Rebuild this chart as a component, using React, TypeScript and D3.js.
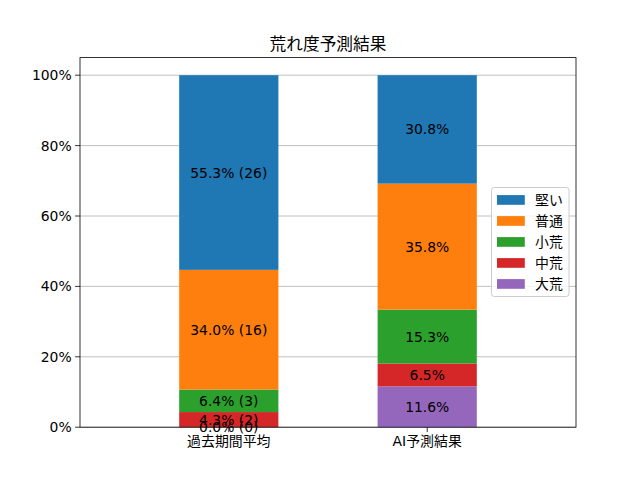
import React, { useRef, useEffect } from "react";
import * as d3 from "d3";

const categories = ["過去期間平均", "AI予測結果"];
// stacked bottom to top
const levels = ["大荒", "中荒", "小荒", "普通", "堅い"];
const colors = ["#9467bd", "#d62728", "#2ca02c", "#ff7f0e", "#1f77b4"];
const pastValues = [0.0, 4.3, 6.4, 34.0, 55.3];
const pastCounts = [0, 2, 3, 16, 26];
const aiValues = [11.6, 6.5, 15.3, 35.8, 30.8];
const yTicks = [0, 20, 40, 60, 80, 100];
const title = "荒れ度予測結果";

const FONT = "'DejaVu Sans', 'Noto Sans CJK JP', sans-serif";

const App: React.FC = () => {
    const svgRef = useRef<SVGSVGElement | null>(null);

    useEffect(() => {
        const width = 640;
        const height = 480;
        const left = 80, right = 576, top = 57.6, bottom = 427.2;

        const svg = d3.select(svgRef.current);
        svg.selectAll("*").remove();

        const x = d3.scaleLinear().domain([-0.75, 1.75]).range([left, right]);
        const y = d3.scaleLinear().domain([0, 105]).range([bottom, top]);
        const barW = x(0.5) - x(0);

        svg.append("rect").attr("width", width).attr("height", height).attr("fill", "white");

        // grid
        svg.append("g")
            .selectAll("line")
            .data(yTicks)
            .join("line")
            .attr("x1", left)
            .attr("x2", right)
            .attr("y1", (d) => y(d))
            .attr("y2", (d) => y(d))
            .attr("stroke", "#b0b0b0")
            .attr("stroke-width", 0.8);

        const series = [
            { values: pastValues, counts: pastCounts as number[] | null },
            { values: aiValues, counts: null as number[] | null },
        ];

        series.forEach((s, i) => {
            let base = 0;
            const g = svg.append("g");
            const segs = s.values.map((v, j) => {
                const seg = { y0: base, y1: base + v, v, j };
                base += v;
                return seg;
            });
            g.selectAll("rect")
                .data(segs)
                .join("rect")
                .attr("x", x(i) - barW / 2)
                .attr("width", barW)
                .attr("y", (d) => y(d.y1))
                .attr("height", (d) => y(d.y0) - y(d.y1))
                .attr("fill", (d) => colors[d.j]);
            g.selectAll("text")
                .data(segs)
                .join("text")
                .attr("x", x(i))
                .attr("y", (d) => y((d.y0 + d.y1) / 2))
                .attr("text-anchor", "middle")
                .attr("dominant-baseline", "central")
                .attr("font-family", FONT)
                .attr("font-size", 13.9)
                .attr("fill", "black")
                .text((d) =>
                    s.counts
                        ? `${d.v.toFixed(1)}% (${s.counts[d.j]})`
                        : `${d.v.toFixed(1)}%`
                );
        });

        // axes frame
        svg.append("rect")
            .attr("x", left)
            .attr("y", top)
            .attr("width", right - left)
            .attr("height", bottom - top)
            .attr("fill", "none")
            .attr("stroke", "black")
            .attr("stroke-width", 0.8);

        // y ticks
        const yt = svg.append("g");
        yTicks.forEach((t) => {
            yt.append("line")
                .attr("x1", left - 4.9)
                .attr("x2", left)
                .attr("y1", y(t))
                .attr("y2", y(t))
                .attr("stroke", "black")
                .attr("stroke-width", 0.8);
            yt.append("text")
                .attr("x", left - 8.4)
                .attr("y", y(t))
                .attr("text-anchor", "end")
                .attr("dominant-baseline", "central")
                .attr("font-family", FONT)
                .attr("font-size", 13.9)
                .text(`${t}%`);
        });

        // x ticks
        categories.forEach((c, i) => {
            svg.append("line")
                .attr("x1", x(i))
                .attr("x2", x(i))
                .attr("y1", bottom)
                .attr("y2", bottom + 4.9)
                .attr("stroke", "black")
                .attr("stroke-width", 0.8);
            svg.append("text")
                .attr("x", x(i))
                .attr("y", bottom + 8.4)
                .attr("text-anchor", "middle")
                .attr("dominant-baseline", "hanging")
                .attr("font-family", FONT)
                .attr("font-size", 13.9)
                .text(c);
        });

        // title
        svg.append("text")
            .attr("x", (left + right) / 2)
            .attr("y", top - 8)
            .attr("text-anchor", "middle")
            .attr("font-family", FONT)
            .attr("font-size", 16.7)
            .text(title);

        // legend (top level first)
        const lg = svg.append("g");
        lg.append("rect")
            .attr("x", 491.5)
            .attr("y", 187.5)
            .attr("width", 77.5)
            .attr("height", 109)
            .attr("rx", 2.8)
            .attr("fill", "white")
            .attr("fill-opacity", 0.8)
            .attr("stroke", "#cccccc")
            .attr("stroke-width", 1);
        const order = d3.range(levels.length).reverse();
        order.forEach((j, k) => {
            const cy = 200 + k * 21;
            lg.append("rect")
                .attr("x", 497)
                .attr("y", cy - 4.9)
                .attr("width", 27.8)
                .attr("height", 9.7)
                .attr("fill", colors[j]);
            lg.append("text")
                .attr("x", 535)
                .attr("y", cy)
                .attr("dominant-baseline", "central")
                .attr("font-family", FONT)
                .attr("font-size", 13.9)
                .text(levels[j]);
        });
    }, []);

    return (
        <svg
            ref={svgRef}
            width={640}
            height={480}
            style={{ position: "absolute", left: 0, top: 0 }}
        />
    );
};

export default App;
